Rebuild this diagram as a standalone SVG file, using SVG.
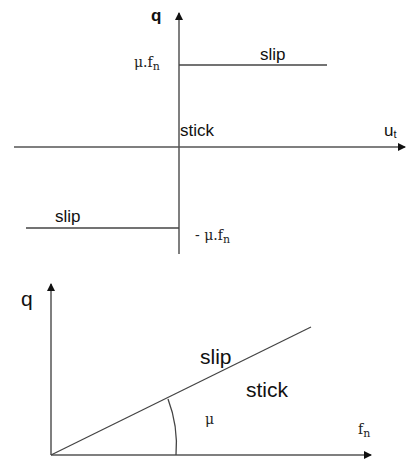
<svg xmlns="http://www.w3.org/2000/svg" width="406" height="462" viewBox="0 0 406 462">
<style>
.ax{stroke:#555;stroke-width:1.5;fill:none}
.ln{stroke:#444;stroke-width:1.3;fill:none}
.lb{font-family:"Liberation Sans",Arial,sans-serif;font-size:17px;fill:#111}
.lg{font-family:"Liberation Sans",Arial,sans-serif;font-size:21px;fill:#111}
.mt{font-family:"DejaVu Serif","Liberation Serif",serif;font-size:14px;fill:#222}
</style>
<defs>
<marker id="ah" markerWidth="8" markerHeight="8" refX="7" refY="4" orient="auto" markerUnits="userSpaceOnUse">
<path d="M0,0 L8,4 L0,8 Z" fill="#111"/>
</marker>
</defs>
<rect width="406" height="462" fill="#fff"/>
<g id="connectors">
<line class="ax" x1="179" y1="254" x2="179" y2="13" marker-end="url(#ah)"/>
<line class="ax" x1="14" y1="147" x2="405" y2="147" marker-end="url(#ah)"/>
<line class="ln" x1="179" y1="65" x2="327" y2="65"/>
<line class="ln" x1="26" y1="228" x2="179" y2="228"/>
<line class="ax" x1="51" y1="455" x2="51" y2="284" marker-end="url(#ah)"/>
<line class="ax" x1="51" y1="455" x2="371" y2="455" marker-end="url(#ah)"/>
<line class="ln" x1="51" y1="455" x2="311" y2="327"/>
<path class="ln" d="M168,399 A128,128 0 0 1 176,455"/>
</g>
<g id="top-q"><text class="lb" x="151" y="21" font-weight="bold">q</text></g>
<g id="top-mufn"><text class="mt" x="134" y="67">μ.f<tspan font-size="11" dy="3">n</tspan></text></g>
<g id="top-slip"><text class="lb" x="260" y="60">slip</text></g>
<g id="top-stick"><text class="lb" x="180" y="136">stick</text></g>
<g id="top-ut"><text class="lb" x="384" y="136">u<tspan font-size="11" dy="2">t</tspan></text></g>
<g id="bot-slip-left"><text class="lb" x="55" y="222">slip</text></g>
<g id="top-negmufn"><text class="mt" x="195" y="240">- μ.f<tspan font-size="11" dy="3">n</tspan></text></g>
<g id="b-q"><text class="lg" x="21" y="306">q</text></g>
<g id="b-slip"><text class="lg" x="200" y="364">slip</text></g>
<g id="b-stick"><text class="lg" x="246" y="397">stick</text></g>
<g id="b-mu"><text class="mt" x="205" y="424">μ</text></g>
<g id="b-fn"><text class="mt" x="358" y="434">f<tspan font-size="11" dy="3">n</tspan></text></g>
</svg>
